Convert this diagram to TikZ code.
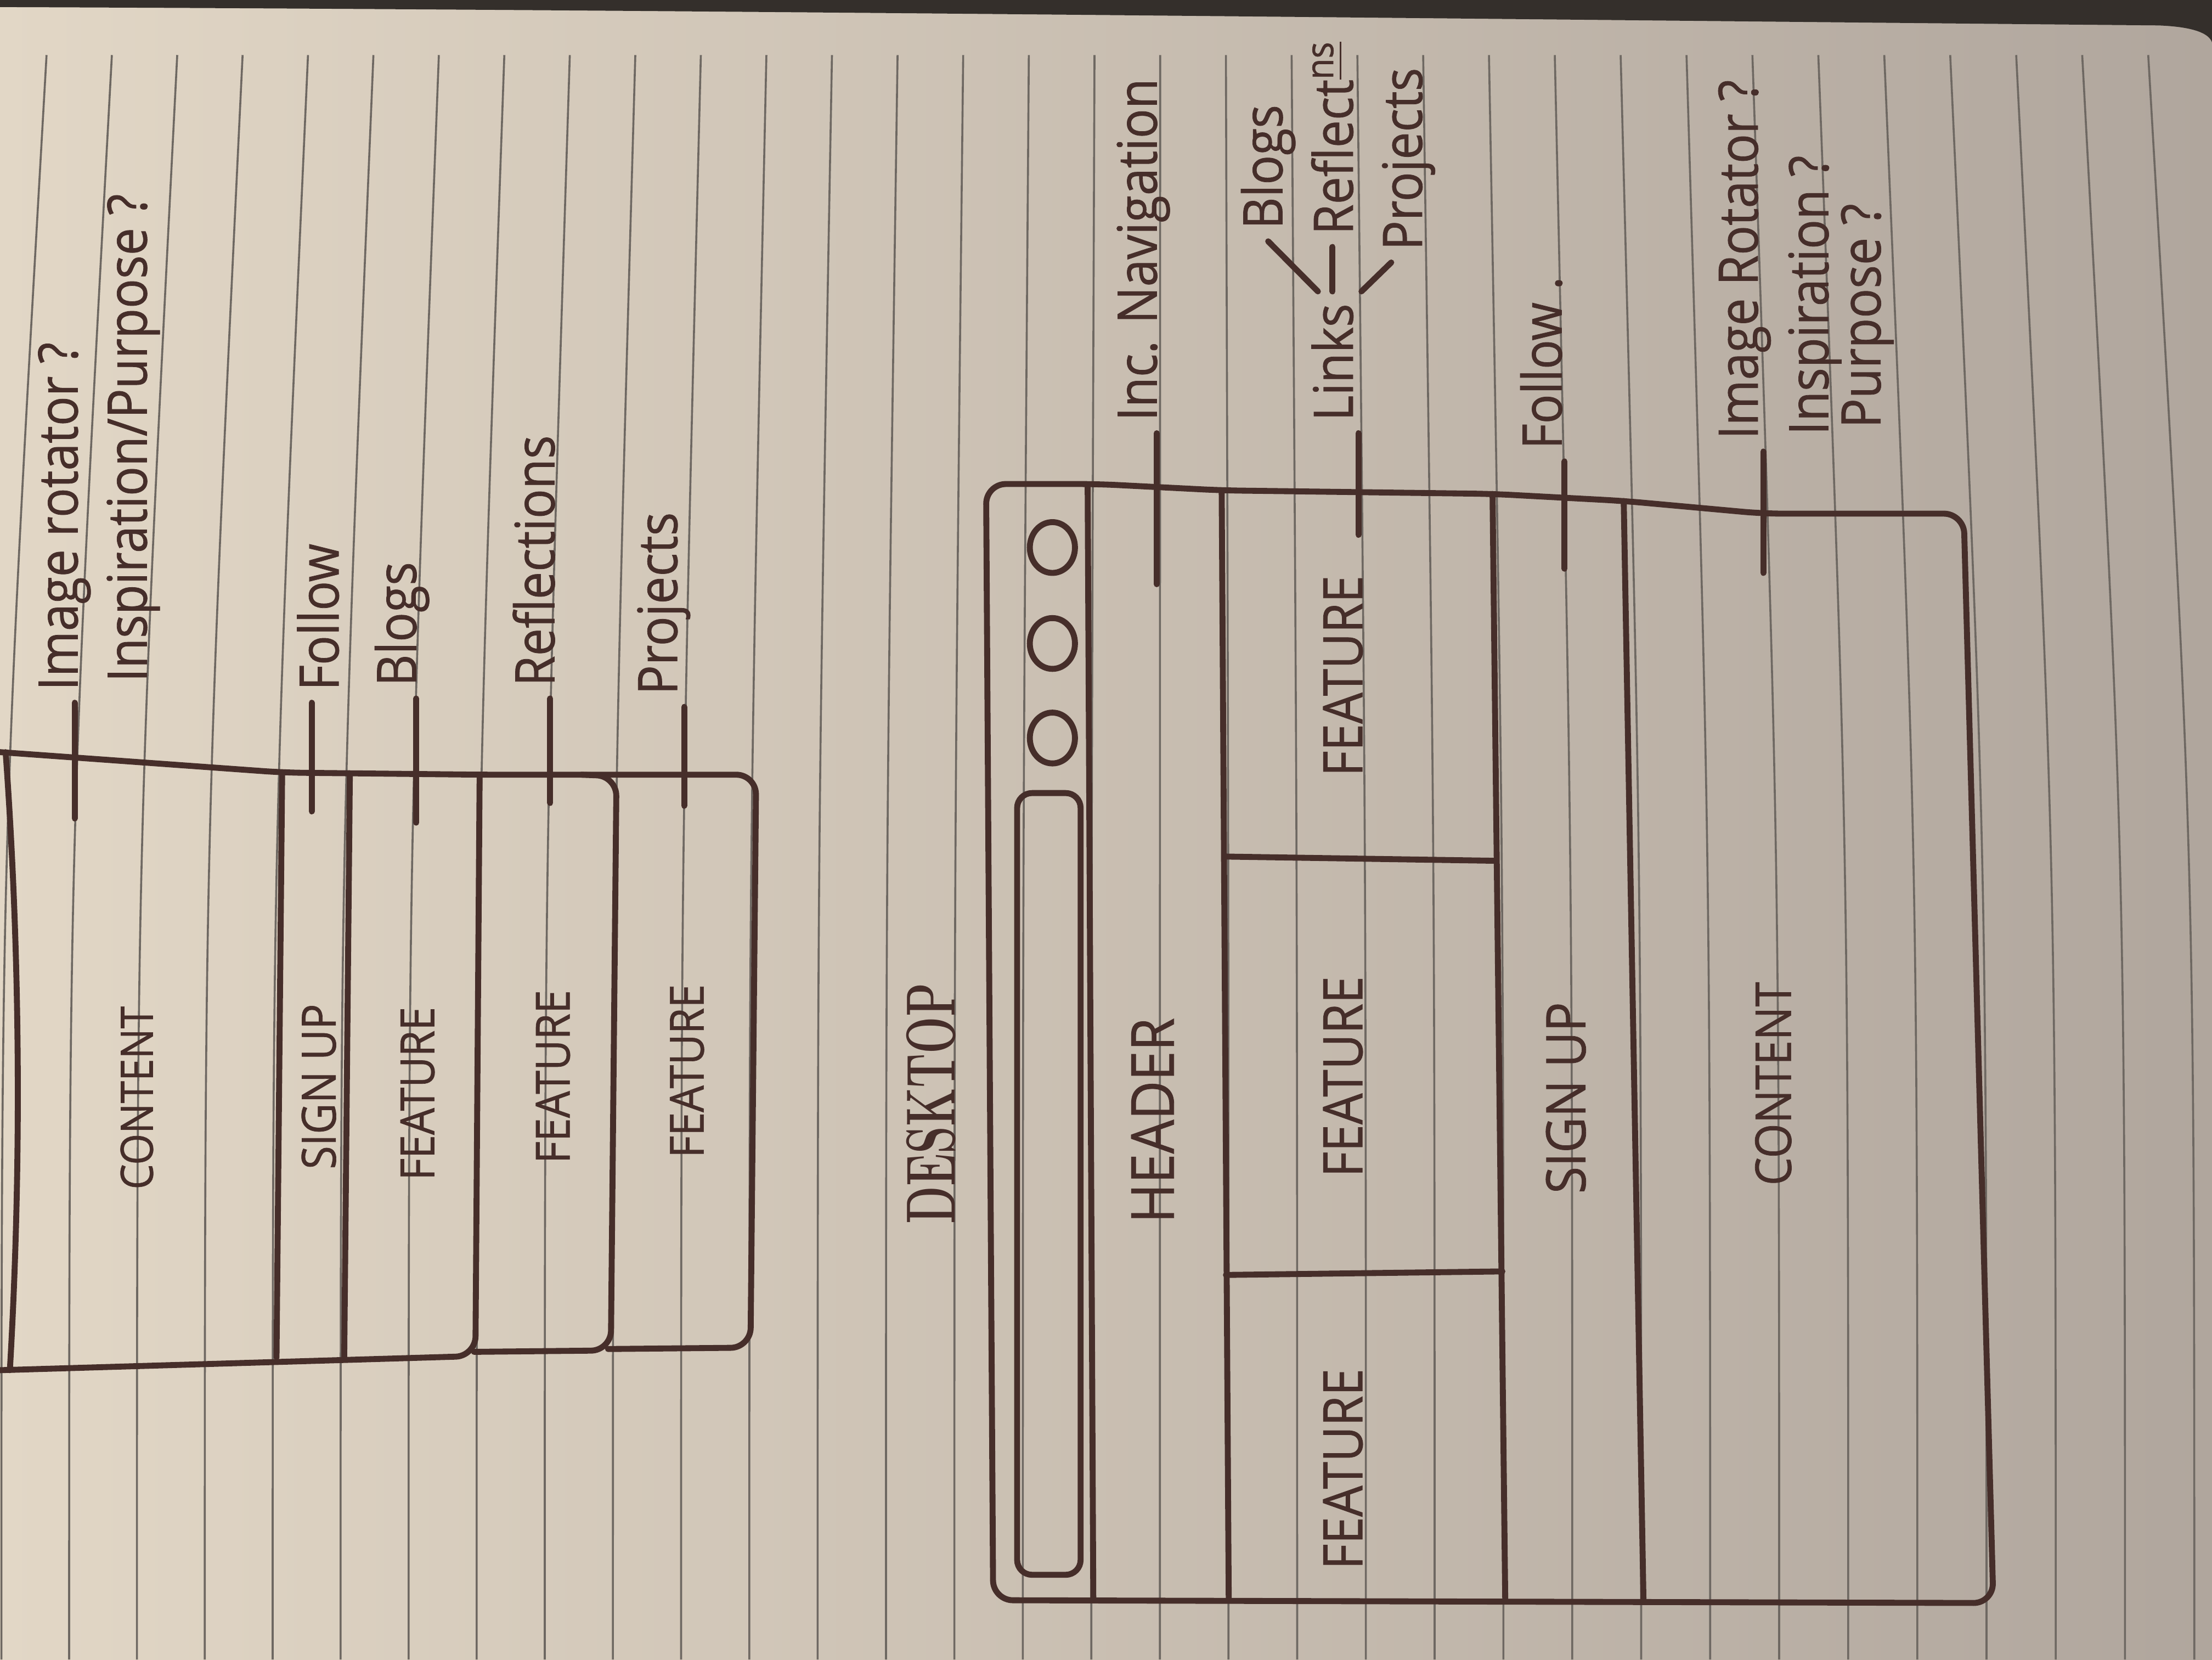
\documentclass[tikz,border=0pt]{standalone}
\usepackage{fontspec}
\newfontfamily\handfont[FakeStretch=0.9, FakeBold=0.8]{Open Sans}
\usepackage{tikz}
\usetikzlibrary{calc, positioning}
\definecolor{paperL}{RGB}{226, 215, 198}
\definecolor{paperM}{RGB}{205, 195, 183}
\definecolor{paperR}{RGB}{176, 166, 157}
\definecolor{penInk}{RGB}{70, 46, 42}
\definecolor{ruling}{RGB}{110, 104, 98}
\definecolor{pageEdge}{RGB}{52, 47, 43}

\begin{document}
\begin{tikzpicture}[x=0.1mm, y=-0.1mm,
  pen/.style={draw=penInk, line width=1.2pt, line cap=round, line join=round},
  rule/.style={draw=ruling, line width=0.4pt},
  mlabel/.style={text=penInk, rotate=90, font=\handfont\fontsize{9.5}{11}\selectfont},
  dlabel/.style={text=penInk, rotate=90, font=\handfont\fontsize{11}{13}\selectfont},
  note/.style={text=penInk, rotate=90, anchor=base west, inner xsep=0.8mm, inner ysep=0.5mm,
    font=\handfont\fontsize{11}{13}\selectfont}]
  % Paper
  \useasboundingbox (0,0) rectangle (1568,1176);
  \shade[left color=paperL, middle color=paperM, right color=paperR] (0,0) rectangle (1568,1176);
  \fill[pageEdge] (0,0) -- (0,5) .. controls (500,7) and (1000,13) .. (1530,18)
    .. controls (1556,19) and (1566,24) .. (1568,30) -- (1568,0) -- cycle;
  % Ruled lines
  \foreach \k in {0,...,32} {
    \pgfmathsetmacro\xt{33+46.3*\k+0.008*\k*\k}
    \pgfmathsetmacro\xb{1+48*\k+0.018*\k*\k}
    \draw[rule] (\xt,39) .. controls (\xb,600) .. (\xb,1176);
  }

  % Mobile wireframe
  \draw[pen, rounded corners=4pt] (0,533) -- (201,547.5) -- (342,549) -- (536,549) -- (532,955) -- (431,956);
  \draw[pen, rounded corners=4pt] (412,549) -- (437,550) -- (433,957) -- (336,958);
  \draw[pen, rounded corners=4pt] (340,549) -- (337,961) -- (0,971);
  \draw[pen] (4,533) .. controls (16,700) and (14,850) .. (7,971);
  \draw[pen] (200,548) -- (196,962);
  \draw[pen] (248,548) -- (244,962);
  \node[mlabel, font=\handfont\fontsize{9}{11}\selectfont] (mContent) at (97,778) {CONTENT};
  \node[mlabel] (mSignup) at (226,770) {SIGN UP};
  \foreach \x/\y [count=\i] in {296/775, 392/763, 487/759}
    \node[mlabel] (mFeature\i) at (\x,\y) {FEATURE};

  % Mobile notes
  \node[note] (mImage) at (55,498) {Image rotator ?};
  \node[note] (mPurpose) at (104,492) {Inspiration/Purpose ?};
  \node[note] (mFollow) at (240,498) {Follow};
  \node[note] (mBlogs) at (295,495) {Blogs};
  \node[note] (mReflect) at (393,495) {Reflections};
  \node[note] (mProjects) at (480,501) {Projects};
  \coordinate (mImageL) at (53,580);
  \coordinate (mFollowL) at (221,575);
  \coordinate (mBlogsL) at (295,583);
  \coordinate (mReflectL) at (390,569);
  \coordinate (mProjectsL) at (485,571);
  \foreach \n in {Image, Follow, Blogs, Reflect, Projects}
    \draw[pen] (m\n L) -- (m\n L |- m\n.base west);

  % Desktop wireframe
  \node[text=penInk, rotate=90, font=\fontsize{14}{16}\selectfont\bfseries] (title) at (660,782)
    {\scalebox{0.63}[1]{DESKTOP}};
  \draw[pen, rounded corners=4pt] (699,343) -- (778,343) -- (866,347.5) -- (1058,350) -- (1151,355)
    -- (1250,364) -- (1392,364) -- (1413,1136) -- (704,1134) -- cycle;
  \draw[pen] (771,344) -- (775,1134);
  \draw[pen] (866,347.5) -- (871,1134);
  \draw[pen] (1058,350) -- (1067,1134);
  \draw[pen] (1151,355) -- (1165,1135);
  \draw[pen] (868,607) -- (1060,610);
  \draw[pen] (869,903.5) -- (1065,901);
  \draw[pen, rounded corners=3pt] (721,562) rectangle (766,1116);
  \foreach \y in {388, 456, 523}
    \draw[pen] (746,\y) ellipse [x radius=16, y radius=18];
  \node[dlabel, font=\handfont\fontsize{12}{14}\selectfont] (dHeader) at (817,794) {HEADER};
  \foreach \y [count=\i] in {479, 763, 1041}
    \node[dlabel] (dFeature\i) at (952,\y) {FEATURE};
  \node[dlabel] (dSignup) at (1110,778) {SIGN UP};
  \node[dlabel, font=\handfont\fontsize{10}{12}\selectfont] (dContent) at (1257,768) {CONTENT};

  % Desktop notes
  \node[note] (dNav) at (820,307) {Inc. Navigation};
  \node[note] (dLinks) at (959,307) {Links};
  \node[note] (dBlogs) at (909,171) {Blogs};
  \node[note] (dReflect) at (959,175) {Reflect\textsuperscript{\underline{ns}}};
  \node[note] (dProjects) at (1008,186) {Projects};
  \node[note] (dFollow) at (1107,327) {Follow .};
  \node[note] (dImage) at (1246,320) {Image Rotator ?};
  \node[note] (dInspire) at (1296,317) {Inspiration ?};
  \node[note] (dPurpose) at (1333,312) {Purpose ?};
  \coordinate (dNavL) at (820,414);
  \coordinate (dLinksL) at (963,379);
  \coordinate (dFollowL) at (1109,403);
  \coordinate (dImageL) at (1250,406);
  \foreach \n in {Nav, Links, Follow, Image}
    \draw[pen] (d\n L) -- (d\n L |- d\n.base west);
  \draw[pen] ($(dLinks.north east)!0.5!(dLinks.east)$) -- (dBlogs.west);
  \draw[pen] (dLinks.east) -- (dLinks.east |- dReflect.west);
  \draw[pen] (dLinks.south east) -- ($(dProjects.west)!0.5!(dProjects.north west)$);
\end{tikzpicture}
\end{document}
